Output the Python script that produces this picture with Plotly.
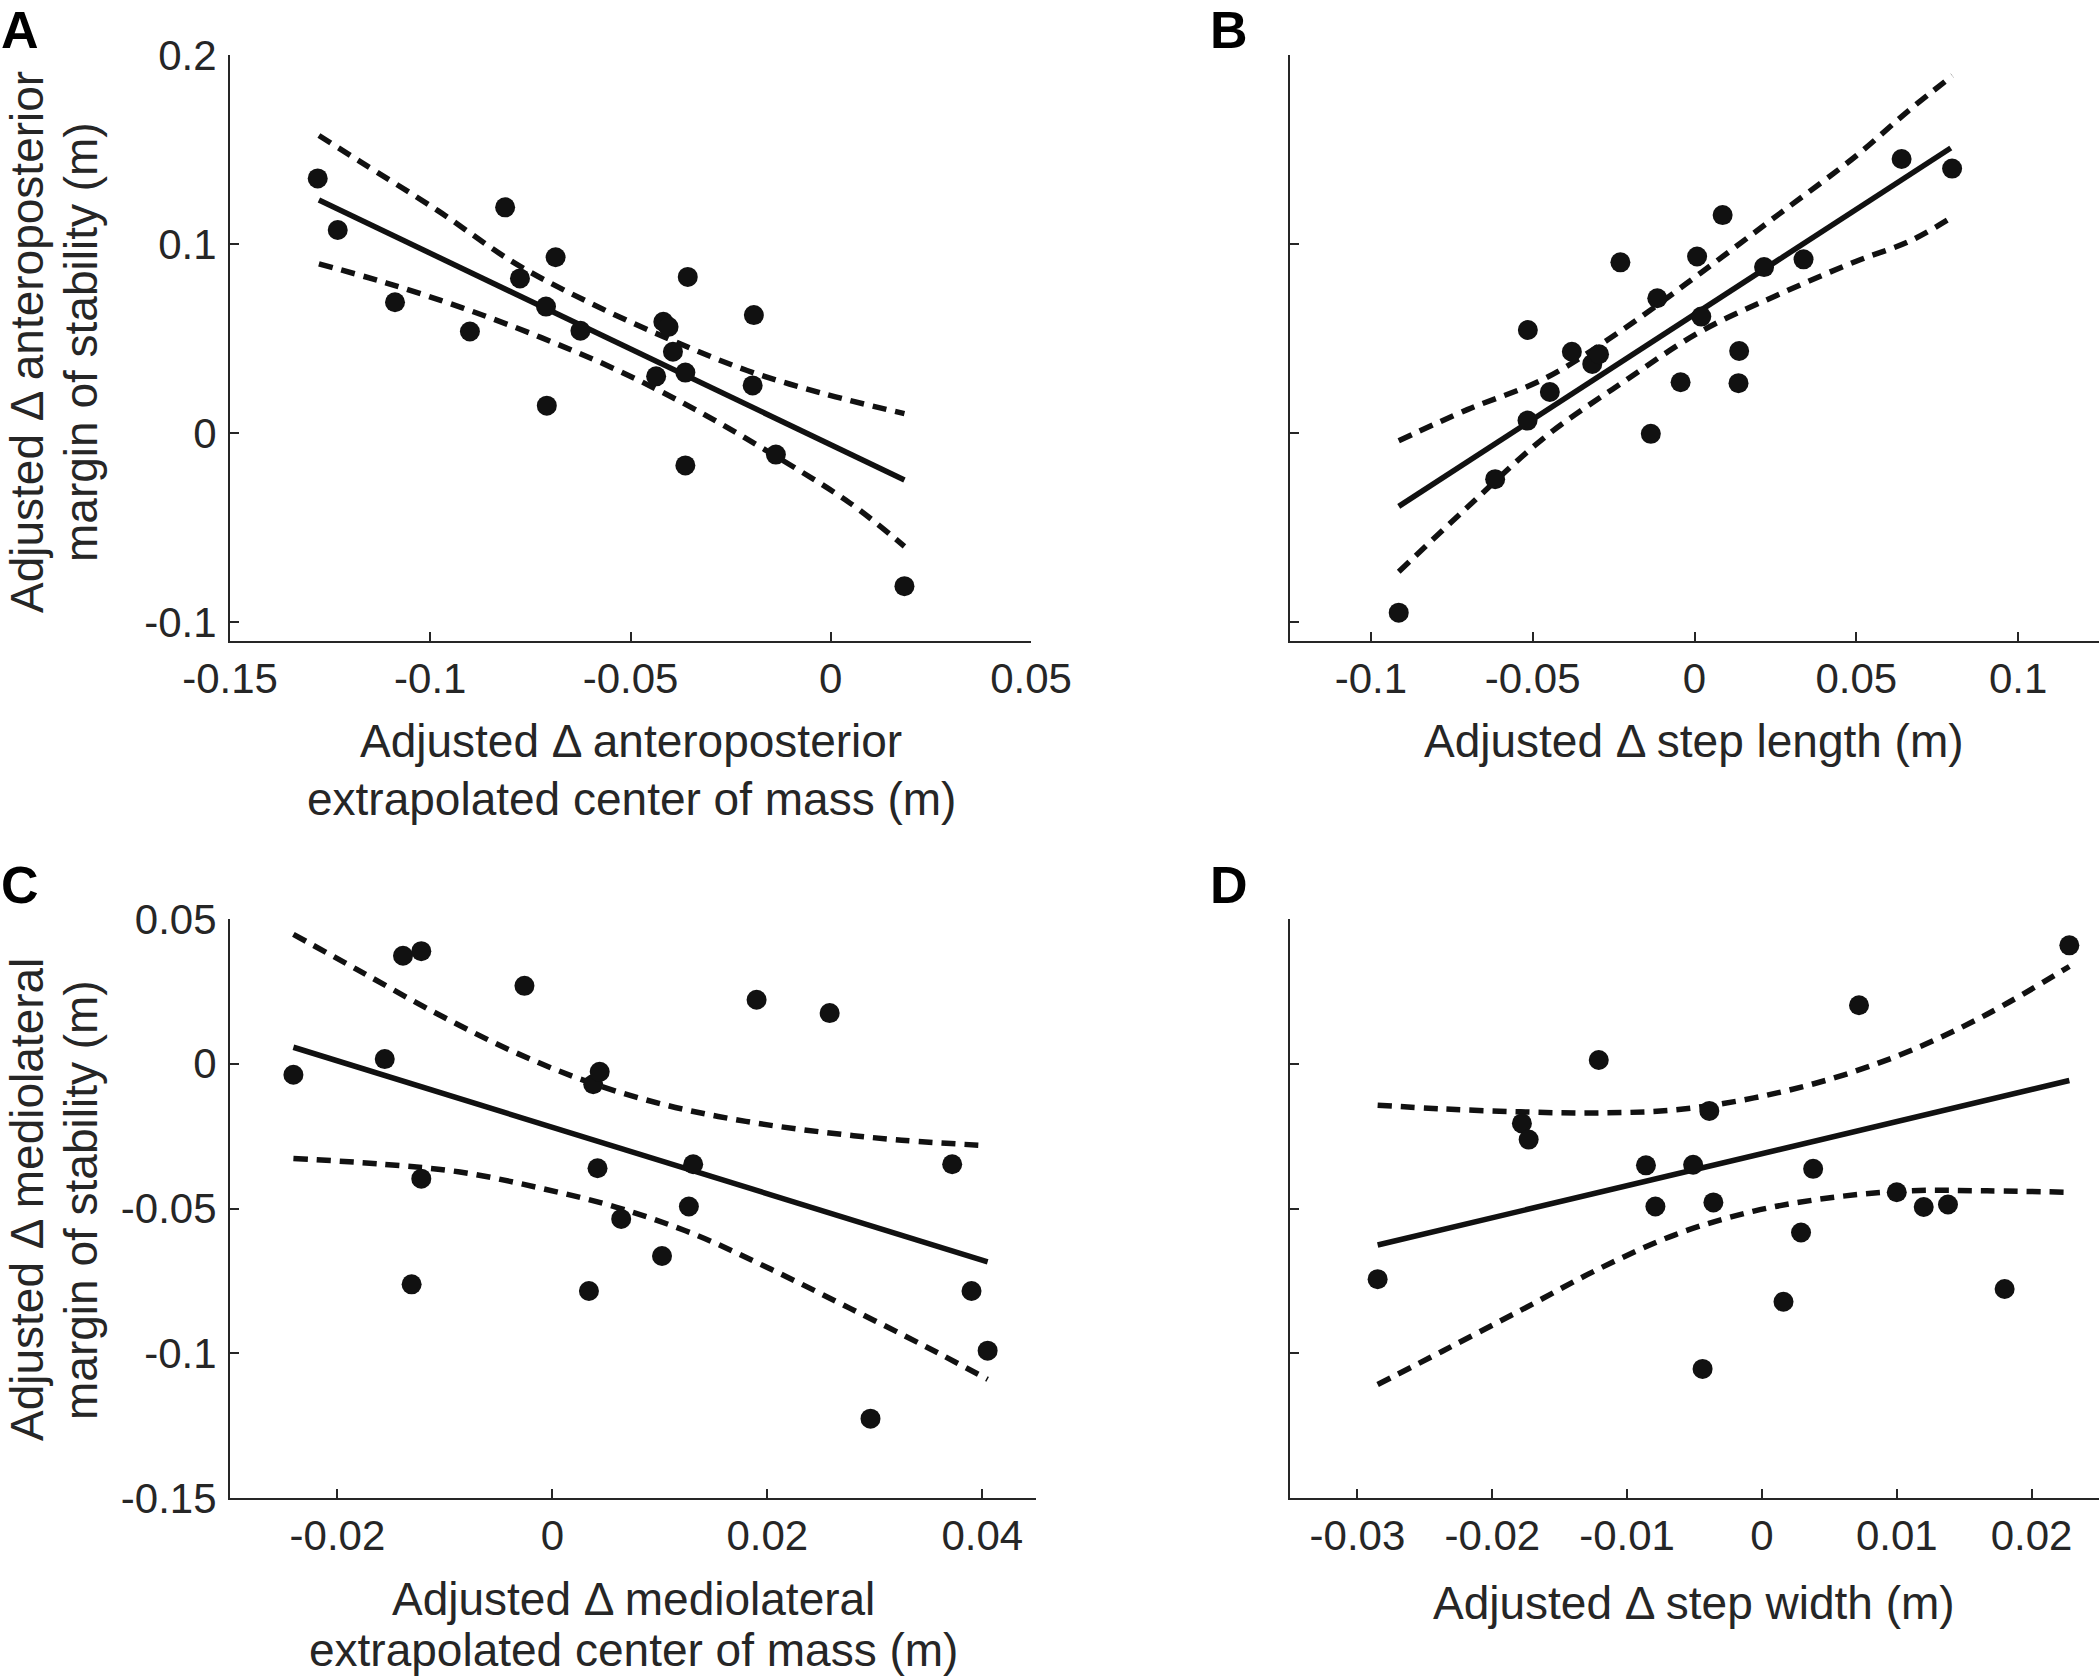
import plotly.graph_objects as go

# ---- Panel A: anteroposterior XCoM vs anteroposterior MoS ----
ap_xcom = [-0.1281, -0.1231, -0.1088, -0.0901, -0.0813, -0.0776, -0.0687, -0.0711, -0.0709, -0.0625,
           -0.0418, -0.0405, -0.0394, -0.0436, -0.0363, -0.0357, -0.0363, -0.0192, -0.0195, -0.0137, 0.0184]
ap_mos = [0.1347, 0.1074, 0.0692, 0.0537, 0.1194, 0.0818, 0.0930, 0.0669, 0.0145, 0.0541,
          0.0589, 0.0562, 0.0430, 0.0300, 0.0320, 0.0826, -0.0171, 0.0624, 0.0252, -0.0114, -0.0810]
a_fit_x = [-0.1278, 0.0184]
a_fit_y = [0.1233, -0.0248]
a_upper_x = [-0.1278, -0.1175, -0.0982, -0.0789, -0.0595, -0.0402, -0.0209, -0.0015, 0.0184]
a_upper_y = [0.1574, 0.1436, 0.1178, 0.0899, 0.0682, 0.0496, 0.0331, 0.0207, 0.0103]
a_lower_x = [-0.1278, -0.1111, -0.0918, -0.0724, -0.0531, -0.0338, -0.0144, 0.0049, 0.0184]
a_lower_y = [0.0895, 0.0795, 0.0661, 0.0506, 0.0331, 0.0124, -0.0114, -0.0372, -0.0599]

# ---- Panel B: step length vs anteroposterior MoS ----
step_length = [-0.0914, -0.0616, -0.0516, -0.0515, -0.0447, -0.0379, -0.0316, -0.0295, -0.0229, -0.0135,
               -0.0115, -0.0043, 0.0008, 0.0021, 0.0087, 0.0138, 0.0136, 0.0215, 0.0337, 0.0640, 0.0796]
ap_mos_b = [-0.0950, -0.0244, 0.0066, 0.0545, 0.0217, 0.0430, 0.0366, 0.0417, 0.0903, -0.0004,
            0.0713, 0.0269, 0.0934, 0.0616, 0.1153, 0.0434, 0.0264, 0.0878, 0.0919, 0.1450, 0.1399]
b_fit_x = [-0.0914, 0.0792]
b_fit_y = [-0.0388, 0.1508]
b_upper_x = [-0.0914, -0.0702, -0.0462, -0.0221, 0.0019, 0.0260, 0.0500, 0.0661, 0.0797]
b_upper_y = [-0.0041, 0.0124, 0.0289, 0.0548, 0.0847, 0.1157, 0.1467, 0.1705, 0.1890]
b_lower_x = [-0.0914, -0.0702, -0.0462, -0.0221, 0.0019, 0.0260, 0.0500, 0.0661, 0.0781]
b_lower_y = [-0.0733, -0.0393, -0.0021, 0.0269, 0.0537, 0.0733, 0.0909, 0.1012, 0.1126]

# ---- Panel C: mediolateral XCoM vs mediolateral MoS ----
ml_xcom = [-0.0241, -0.0156, -0.0139, -0.0122, -0.0122, -0.0131, -0.0026, 0.0038, 0.0044, 0.0042, 0.0034,
           0.0064, 0.0102, 0.0127, 0.0131, 0.0190, 0.0258, 0.0296, 0.0372, 0.0390, 0.0405]
ml_mos = [-0.0038, 0.0016, 0.0373, 0.0389, -0.0397, -0.0762, 0.0269, -0.0071, -0.0028, -0.0361, -0.0785,
          -0.0536, -0.0664, -0.0493, -0.0347, 0.0221, 0.0175, -0.1226, -0.0347, -0.0785, -0.0991]
c_fit_x = [-0.0241, 0.0405]
c_fit_y = [0.0057, -0.0684]
c_upper_x = [-0.0241, -0.0182, -0.0110, -0.0037, 0.0035, 0.0108, 0.0180, 0.0253, 0.0325, 0.0405]
c_upper_y = [0.0447, 0.0326, 0.0178, 0.0043, -0.0065, -0.0145, -0.0199, -0.0237, -0.0264, -0.0283]
c_lower_x = [-0.0241, -0.0158, -0.0086, -0.0013, 0.0059, 0.0132, 0.0204, 0.0277, 0.0349, 0.0405]
c_lower_y = [-0.0327, -0.0347, -0.0374, -0.0428, -0.0495, -0.0589, -0.0711, -0.0845, -0.0980, -0.1090]

# ---- Panel D: step width vs mediolateral MoS ----
step_width = [-0.0285, -0.0178, -0.0173, -0.0121, -0.0086, -0.0079, -0.0051, -0.0044, -0.0039, -0.0036,
              0.0016, 0.0029, 0.0038, 0.0072, 0.0100, 0.0120, 0.0138, 0.0180, 0.0228]
ml_mos_d = [-0.0744, -0.0206, -0.0262, 0.0013, -0.0351, -0.0493, -0.0349, -0.1054, -0.0163, -0.0479,
            -0.0822, -0.0583, -0.0363, 0.0202, -0.0444, -0.0495, -0.0486, -0.0778, 0.0409]
d_fit_x = [-0.0285, 0.0228]
d_fit_y = [-0.0626, -0.0058]
d_upper_x = [-0.0285, -0.0237, -0.0179, -0.0122, -0.0064, -0.0006, 0.0052, 0.0109, 0.0167, 0.0228]
d_upper_y = [-0.0143, -0.0156, -0.0166, -0.0170, -0.0159, -0.0118, -0.0051, 0.0043, 0.0171, 0.0336]
d_lower_x = [-0.0285, -0.0237, -0.0179, -0.0122, -0.0064, -0.0006, 0.0052, 0.0109, 0.0167, 0.0228]
d_lower_y = [-0.1108, -0.0993, -0.0852, -0.0711, -0.0590, -0.0509, -0.0462, -0.0439, -0.0439, -0.0444]

FONT = "Liberation Sans, Arial, Helvetica, sans-serif"
INK = "#262626"
W, H = 2100, 1680

fig = go.Figure()

panels = [
    (ap_xcom, ap_mos, a_fit_x, a_fit_y, a_upper_x, a_upper_y, a_lower_x, a_lower_y),
    (step_length, ap_mos_b, b_fit_x, b_fit_y, b_upper_x, b_upper_y, b_lower_x, b_lower_y),
    (ml_xcom, ml_mos, c_fit_x, c_fit_y, c_upper_x, c_upper_y, c_lower_x, c_lower_y),
    (step_width, ml_mos_d, d_fit_x, d_fit_y, d_upper_x, d_upper_y, d_lower_x, d_lower_y),
]

for i, (x, y, fx, fy, ux, uy, lx, ly) in enumerate(panels):
    xa = "x" if i == 0 else f"x{i + 1}"
    ya = "y" if i == 0 else f"y{i + 1}"
    # confidence bounds (dashed), fit (solid), then the subjects
    dashed = {"color": "#111111", "width": 5.5, "dash": "14px,9px", "shape": "spline"}
    fig.add_trace(go.Scatter(x=ux, y=uy, mode="lines", line=dashed, xaxis=xa, yaxis=ya, showlegend=False))
    fig.add_trace(go.Scatter(x=lx, y=ly, mode="lines", line=dashed, xaxis=xa, yaxis=ya, showlegend=False))
    fig.add_trace(go.Scatter(x=fx, y=fy, mode="lines", line={"color": "#111111", "width": 5.5},
                             xaxis=xa, yaxis=ya, showlegend=False))
    fig.add_trace(go.Scatter(x=x, y=y, mode="markers", marker={"color": "#111111", "size": 20},
                             xaxis=xa, yaxis=ya, showlegend=False, cliponaxis=False))


def px_x(p):
    return p / W


def px_y(p):
    return 1 - p / H


axis_common = dict(
    showline=True, linecolor=INK, linewidth=2, mirror=False,
    ticks="inside", ticklen=9, tickwidth=2, tickcolor=INK,
    showgrid=False, zeroline=False, automargin=False,
    tickfont=dict(family=FONT, size=42, color=INK),
)

# domains in pixels: (left, right, top, bottom)
boxes = [(230, 1031, 55, 641), (1290, 2099, 55, 641), (230, 1036, 919, 1498), (1290, 2099, 919, 1498)]
x_ranges = [[-0.15, 0.05], [-0.125, 0.125], [-0.03, 0.045], [-0.035, 0.025]]
y_ranges = [[-0.11, 0.2], [-0.11, 0.2], [-0.15, 0.05], [-0.15, 0.05]]
x_ticks = [[-0.15, -0.1, -0.05, 0, 0.05], [-0.1, -0.05, 0, 0.05, 0.1],
           [-0.02, 0, 0.02, 0.04], [-0.03, -0.02, -0.01, 0, 0.01, 0.02]]
x_labels = [["-0.15", "-0.1", "-0.05", "0", "0.05"], ["-0.1", "-0.05", "0", "0.05", "0.1"],
            ["-0.02", "0", "0.02", "0.04"], ["-0.03", "-0.02", "-0.01", "0", "0.01", "0.02"]]
y_ticks = [[-0.1, 0, 0.1, 0.2], [-0.1, 0, 0.1, 0.2],
           [-0.15, -0.1, -0.05, 0, 0.05], [-0.15, -0.1, -0.05, 0, 0.05]]
y_labels = [["-0.1", "0", "0.1", "0.2"], None, ["-0.15", "-0.1", "-0.05", "0", "0.05"], None]

layout = {}
for i, (l, r, t, b) in enumerate(boxes):
    xk = "xaxis" if i == 0 else f"xaxis{i + 1}"
    yk = "yaxis" if i == 0 else f"yaxis{i + 1}"
    ya = "y" if i == 0 else f"y{i + 1}"
    xa = "x" if i == 0 else f"x{i + 1}"
    layout[xk] = dict(axis_common, domain=[px_x(l), px_x(r)], range=x_ranges[i], anchor=ya,
                      tickvals=x_ticks[i], ticktext=x_labels[i], ticklabelstandoff=0)
    yax = dict(axis_common, domain=[px_y(b), px_y(t)], range=y_ranges[i], anchor=xa,
               tickvals=y_ticks[i], ticklabelstandoff=3)
    if y_labels[i] is None:
        yax["showticklabels"] = False
    else:
        yax["ticktext"] = y_labels[i]
    layout[yk] = yax

fig.update_layout(**layout)

title_font = dict(family=FONT, size=46, color=INK)
letter_font = dict(family=FONT, size=52, color="#000000")

# axis titles, one annotation per line: (text, x px, y px, angle)
title_lines = [
    ("Adjusted \u0394 anteroposterior", 631, 741, 0),
    ("extrapolated center of mass (m)", 631, 799, 0),
    ("Adjusted \u0394 step length (m)", 1694, 741, 0),
    ("Adjusted \u0394 mediolateral", 633, 1599, 0),
    ("extrapolated center of mass (m)", 633, 1650, 0),
    ("Adjusted \u0394 step width (m)", 1694, 1603, 0),
    ("Adjusted \u0394 anteroposterior", 27, 342, -90),
    ("margin of stability (m)", 81, 342, -90),
    ("Adjusted \u0394 mediolateral", 27, 1200, -90),
    ("margin of stability (m)", 81, 1200, -90),
]
annotations = [
    dict(text=t, x=px_x(x), y=px_y(y), textangle=ang, xanchor="center", yanchor="middle",
         xref="paper", yref="paper", showarrow=False, font=title_font, borderpad=0)
    for t, x, y, ang in title_lines
]

# panel letters; the top pair hangs from the top edge so the text box stays on the page
for letter, lx, ly, anchor in [("A", 0, 0, "top"), ("B", 1209, 0, "top"),
                               ("C", 0, 885, "middle"), ("D", 1209, 885, "middle")]:
    annotations.append(dict(text=f"<b>{letter}</b>", x=px_x(lx), y=px_y(ly), xref="paper", yref="paper",
                            xanchor="left", yanchor=anchor, showarrow=False, font=letter_font,
                            borderpad=0))

fig.update_layout(
    annotations=annotations,
    width=W, height=H,
    margin=dict(l=0, r=0, t=0, b=0),
    paper_bgcolor="white", plot_bgcolor="white",
)

# the page's default body margin would push the figure 8px off the window
fig.write_html("out.html", config={"displayModeBar": False},
               post_script="document.body.style.margin = '0px';")
